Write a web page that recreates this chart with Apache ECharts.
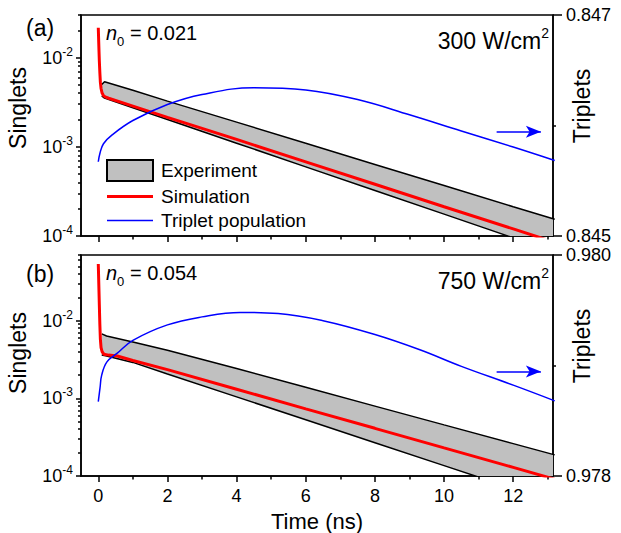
<!DOCTYPE html>
<html><head><meta charset="utf-8">
<script src="https://cdn.jsdelivr.net/npm/echarts@6/dist/echarts.min.js"></script>
<style>html,body{margin:0;padding:0;background:#fff}#c{width:621px;height:533px}</style>
</head><body><div id="c"></div>
<script>
const FONT = "'Liberation Sans', Arial, Helvetica, sans-serif";

// ---------- tick labels ----------
const xMajorTicks = [0, 2, 4, 6, 8, 10, 12];
const xMinorTicks = [1, 3, 5, 7, 9, 11, 13];
const singletMajorTicks = [1e-4, 1e-3, 1e-2];
const singletMinorTicksA = [2e-4, 3e-4, 4e-4, 5e-4, 6e-4, 7e-4, 8e-4, 9e-4, 2e-3, 3e-3, 4e-3, 5e-3, 6e-3, 7e-3, 8e-3, 9e-3, 2e-2, 3e-2];
const singletMinorTicksB = [2e-4, 3e-4, 4e-4, 5e-4, 6e-4, 7e-4, 8e-4, 9e-4, 2e-3, 3e-3, 4e-3, 5e-3, 6e-3, 7e-3, 8e-3, 9e-3, 2e-2, 3e-2, 4e-2, 5e-2, 6e-2, 7e-2];
const tripletTicksA = [0.845, 0.847];
const tripletMinorA = [0.846];
const tripletTicksB = [0.978, 0.980];
const tripletMinorB = [0.979];

// ---------- panel (a): 300 W/cm2 ----------
const timeExpA = [0.1, 0.18, 1, 2, 4, 6, 8, 10, 12, 13.2];
const upperA = [4.98e-3, 5.37e-3, 4.30e-3, 3.25e-3, 1.89e-3, 1.094e-3, 6.34e-4, 3.68e-4, 2.13e-4, 1.54e-4];
const lowerA = [3.72e-3, 3.51e-3, 2.74e-3, 2.02e-3, 1.097e-3, 5.96e-4, 3.24e-4, 1.76e-4, 9.55e-5, 6.6e-5];
const timeSimA = [0, 0.01, 0.02, 0.03, 0.045, 0.06, 0.08, 0.11, 0.15, 0.2, 0.3, 1, 2, 4, 6, 8, 10, 12, 13.2];
const simA = [0.0216, 0.016, 0.012, 0.0092, 0.0068, 0.0053, 0.0045, 0.0040, 0.00375, 0.00362, 0.0035, 2.86e-3, 2.14e-3, 1.21e-3, 6.77e-4, 3.80e-4, 2.13e-4, 1.20e-4, 8.5e-5];
const timeTripA = [0, 0.05, 0.15, 0.4, 1, 2, 3, 4.5, 6, 7.5, 9, 10.5, 12, 13.2];
const tripA = [0.845672, 0.845751, 0.845835, 0.845915, 0.846045, 0.846190, 0.846281, 0.846342, 0.846322, 0.846235, 0.846097, 0.845950, 0.845805, 0.845683];

// ---------- panel (b): 750 W/cm2 ----------
const timeExpB = [0.1, 0.24, 1, 2, 4, 6, 8, 10, 12, 13.2];
const upperB = [6.75e-3, 6.35e-3, 5.30e-3, 4.15e-3, 2.42e-3, 1.387e-3, 7.94e-4, 4.55e-4, 2.61e-4, 1.87e-4];
const lowerB = [3.61e-3, 3.51e-3, 2.90e-3, 2.06e-3, 1.044e-3, 5.30e-4, 2.68e-4, 1.36e-4, 6.9e-5, 4.57e-5];
const timeSimB = [0, 0.01, 0.02, 0.03, 0.045, 0.06, 0.08, 0.11, 0.16, 0.3, 0.55, 1, 2, 4, 6, 8, 10, 12, 13.2];
const simB = [0.0537, 0.036, 0.024, 0.016, 0.009, 0.0058, 0.0045, 0.0040, 0.0037, 0.0036, 0.0035, 3.07e-3, 2.34e-3, 1.311e-3, 7.32e-4, 4.11e-4, 2.30e-4, 1.29e-4, 9.1e-5];
const timeTripB = [0, 0.05, 0.1, 0.25, 0.55, 1, 2, 3, 4.1, 5.2, 6.5, 8, 9.3, 10.5, 12, 13.2];
const tripB = [0.978673, 0.978797, 0.978915, 0.979033, 0.979112, 0.979228, 0.979368, 0.979440, 0.979480, 0.979470, 0.979405, 0.979280, 0.979142, 0.978992, 0.978822, 0.978680];

// arrow annotations (data coords)
const arrowA = [[11.52, 0.845944], [12.8, 0.845944]];
const arrowB = [[11.52, 0.978945], [12.8, 0.978945]];

const pairs = (xs, ys) => xs.map((x, i) => [x, ys[i]]);
const BLACK = '#000';
const axisLineStyle = { color: BLACK, width: 1.5 };

function xMain(gi, labels) {
  return {
    type: 'value', gridIndex: gi, min: -0.5, max: 13.15, position: 'bottom',
    axisLine: { show: true, onZero: false, lineStyle: axisLineStyle },
    axisTick: { show: true, customValues: xMajorTicks, length: 6, inside: false, lineStyle: axisLineStyle },
    axisLabel: { show: labels, customValues: xMajorTicks, fontSize: 18, color: BLACK, fontFamily: FONT, margin: 11 },
    splitLine: { show: false },
    name: labels ? 'Time (ns)' : '', nameLocation: 'middle', nameGap: 34,
    nameTextStyle: { fontSize: 22, color: BLACK, fontFamily: FONT }
  };
}
function xMinor(gi) {
  return {
    type: 'value', gridIndex: gi, min: -0.5, max: 13.15, position: 'bottom',
    axisLine: { show: false, onZero: false },
    axisTick: { show: true, customValues: xMinorTicks, length: 3.5, lineStyle: axisLineStyle },
    axisLabel: { show: false }, splitLine: { show: false }
  };
}
const supRich = {
  b: { fontSize: 18, lineHeight: 24, color: BLACK, fontFamily: FONT },
  s: { fontSize: 12, lineHeight: 12, verticalAlign: 'top', color: BLACK, fontFamily: FONT }
};
function yLog(gi, max) {
  return {
    type: 'log', logBase: 10, gridIndex: gi, min: 1e-4, max: max, position: 'left',
    axisLine: { show: true, onZero: false, lineStyle: axisLineStyle },
    axisTick: { show: true, customValues: singletMajorTicks, length: 5, lineStyle: axisLineStyle },
    axisLabel: {
      show: true, customValues: singletMajorTicks, margin: 8,
      formatter: v => '{b|10}{s|' + Math.round(Math.log10(v)) + '}', rich: supRich
    },
    splitLine: { show: false }, minorTick: { show: false }
  };
}
function yLogMinor(gi, max, ticks) {
  return {
    type: 'log', logBase: 10, gridIndex: gi, min: 1e-4, max: max, position: 'left',
    axisLine: { show: false, onZero: false },
    axisTick: { show: true, customValues: ticks, length: 3, lineStyle: axisLineStyle },
    axisLabel: { show: false }, splitLine: { show: false }
  };
}
function yRight(gi, ticks) {
  return {
    type: 'value', gridIndex: gi, min: ticks[0], max: ticks[1], position: 'right',
    axisLine: { show: true, onZero: false, lineStyle: axisLineStyle },
    axisTick: { show: true, customValues: ticks, length: 9, lineStyle: axisLineStyle },
    axisLabel: { show: true, customValues: ticks, formatter: v => v.toFixed(3), margin: 13, fontSize: 18, color: BLACK, fontFamily: FONT },
    splitLine: { show: false }
  };
}
function yRightMinor(gi, ticks, minor) {
  return {
    type: 'value', gridIndex: gi, min: ticks[0], max: ticks[1], position: 'right',
    axisLine: { show: false, onZero: false },
    axisTick: { show: true, customValues: minor, length: 3, lineStyle: axisLineStyle },
    axisLabel: { show: false }, splitLine: { show: false }
  };
}

function panelSeries(gi, tExp, upper, lower, tSim, sim, tTrip, trip, arrow) {
  const xi = gi * 2, yl = gi * 4, yr = gi * 4 + 2;
  return [
    { type: 'custom', name: 'Experiment', xAxisIndex: xi, yAxisIndex: yl, coordinateSystem: 'cartesian2d',
      clip: true, silent: true, z: 2, itemStyle: { color: '#c0c0c0' },
      data: pairs(tExp, upper), encode: { x: 0, y: 1 },
      renderItem: function (params, api) {
        if (params.dataIndex !== 0) return null;
        const top = tExp.map((t, i) => api.coord([t, upper[i]]));
        const bot = tExp.map((t, i) => api.coord([t, lower[i]])).reverse();
        return { type: 'polygon', shape: { points: top.concat(bot) }, style: { fill: '#c0c0c0', stroke: null } };
      } },
    { type: 'line', name: 'upper' + gi, xAxisIndex: xi, yAxisIndex: yl,
      data: pairs(tExp, upper), symbol: 'none', lineStyle: { color: BLACK, width: 1.5 }, z: 3, silent: true },
    { type: 'line', name: 'lower' + gi, xAxisIndex: xi, yAxisIndex: yl,
      data: pairs(tExp, lower), symbol: 'none', lineStyle: { color: BLACK, width: 1.5 }, z: 3, silent: true },
    { type: 'line', name: 'Simulation', xAxisIndex: xi, yAxisIndex: yl,
      data: pairs(tSim, sim), symbol: 'none', lineStyle: { color: '#ff0000', width: 3 },
      itemStyle: { color: '#ff0000' }, z: 4, silent: true },
    { type: 'line', name: 'Triplet population', xAxisIndex: xi, yAxisIndex: yr,
      data: pairs(tTrip, trip), symbol: 'none', smooth: 0.4,
      lineStyle: { color: '#0000ff', width: 1.5 }, itemStyle: { color: '#0000ff' }, z: 5, silent: true,
      markLine: {
        silent: true, symbol: ['none', 'arrow'], symbolSize: [9, 15], animation: false,
        lineStyle: { color: '#0000ff', width: 1.5, type: 'solid' }, label: { show: false },
        data: [[{ coord: arrow[0] }, { coord: arrow[1] }]]
      } }
  ];
}

const txt = (x, y, text, opts) => Object.assign({
  type: 'text', x: x, y: y, silent: true,
  style: Object.assign({ text: text, fill: BLACK, fontFamily: FONT, fontSize: 20,
    textAlign: 'left', textVerticalAlign: 'middle', align: 'left', verticalAlign: 'middle' }, opts.style || {})
}, opts.el || {});

const nRich = {
  i: { fontSize: 20, fontStyle: 'italic', lineHeight: 30, fontFamily: FONT, fill: BLACK },
  sub: { fontSize: 13, lineHeight: 12, verticalAlign: 'bottom', fontFamily: FONT, fill: BLACK },
  t: { fontSize: 20, lineHeight: 30, fontFamily: FONT, fill: BLACK }
};
const pRich = {
  t: { fontSize: 23, lineHeight: 30, fontFamily: FONT, fill: BLACK },
  sup: { fontSize: 14, lineHeight: 13, verticalAlign: 'top', fontFamily: FONT, fill: BLACK }
};

const chart = echarts.init(document.getElementById('c'), null, { renderer: 'svg', width: 621, height: 533 });
chart.setOption({
  animation: false,
  backgroundColor: '#fff',
  grid: [
    { left: 81, top: 15, width: 472, height: 221, show: true, borderColor: BLACK, borderWidth: 1.5, backgroundColor: 'transparent' },
    { left: 81, top: 255, width: 472, height: 221, show: true, borderColor: BLACK, borderWidth: 1.5, backgroundColor: 'transparent' }
  ],
  xAxis: [xMain(0, false), xMinor(0), xMain(1, true), xMinor(1)],
  yAxis: [
    yLog(0, 0.03), yLogMinor(0, 0.03, singletMinorTicksA), yRight(0, tripletTicksA), yRightMinor(0, tripletTicksA, tripletMinorA),
    yLog(1, 0.07), yLogMinor(1, 0.07, singletMinorTicksB), yRight(1, tripletTicksB), yRightMinor(1, tripletTicksB, tripletMinorB)
  ],
  legend: {
    left: 106, top: 159, orient: 'vertical', padding: 0, itemWidth: 46, itemHeight: 21, itemGap: 5,
    selectedMode: false, textStyle: { fontSize: 19, color: BLACK, fontFamily: FONT, padding: [0, 0, 0, 3] },
    data: [
      { name: 'Experiment', icon: 'rect', itemStyle: { color: '#c0c0c0', borderColor: BLACK, borderWidth: 2 } },
      { name: 'Simulation', icon: 'path://M0,0L46,0L46,3L0,3Z', itemStyle: { color: '#ff0000', borderWidth: 0 } },
      { name: 'Triplet population', icon: 'path://M0,0L46,0L46,1.5L0,1.5Z', itemStyle: { color: '#0000ff', borderWidth: 0 } }
    ]
  },
  series: [].concat(
    panelSeries(0, timeExpA, upperA, lowerA, timeSimA, simA, timeTripA, tripA, arrowA),
    panelSeries(1, timeExpB, upperB, lowerB, timeSimB, simB, timeTripB, tripB, arrowB)
  ),
  graphic: [
    txt(26, 28, '(a)', { style: { fontSize: 23 } }),
    txt(26, 274, '(b)', { style: { fontSize: 23 } }),
    txt(106, 33, '{i|n}{sub|0}{t| = 0.021}', { style: { rich: nRich } }),
    txt(106, 273, '{i|n}{sub|0}{t| = 0.054}', { style: { rich: nRich } }),
    txt(549, 41, '{t|300 W/cm}{sup|2}', { style: { rich: pRich, textAlign: 'right', align: 'right' } }),
    txt(549, 281, '{t|750 W/cm}{sup|2}', { style: { rich: pRich, textAlign: 'right', align: 'right' } }),
    txt(18, 108, 'Singlets', { style: { fontSize: 23, textAlign: 'center', align: 'center' }, el: { rotation: Math.PI / 2 } }),
    txt(18, 353, 'Singlets', { style: { fontSize: 23, textAlign: 'center', align: 'center' }, el: { rotation: Math.PI / 2 } }),
    txt(582, 106, 'Triplets', { style: { fontSize: 23, textAlign: 'center', align: 'center' }, el: { rotation: Math.PI / 2 } }),
    txt(582, 346, 'Triplets', { style: { fontSize: 23, textAlign: 'center', align: 'center' }, el: { rotation: Math.PI / 2 } })
  ]
});
</script></body></html>
